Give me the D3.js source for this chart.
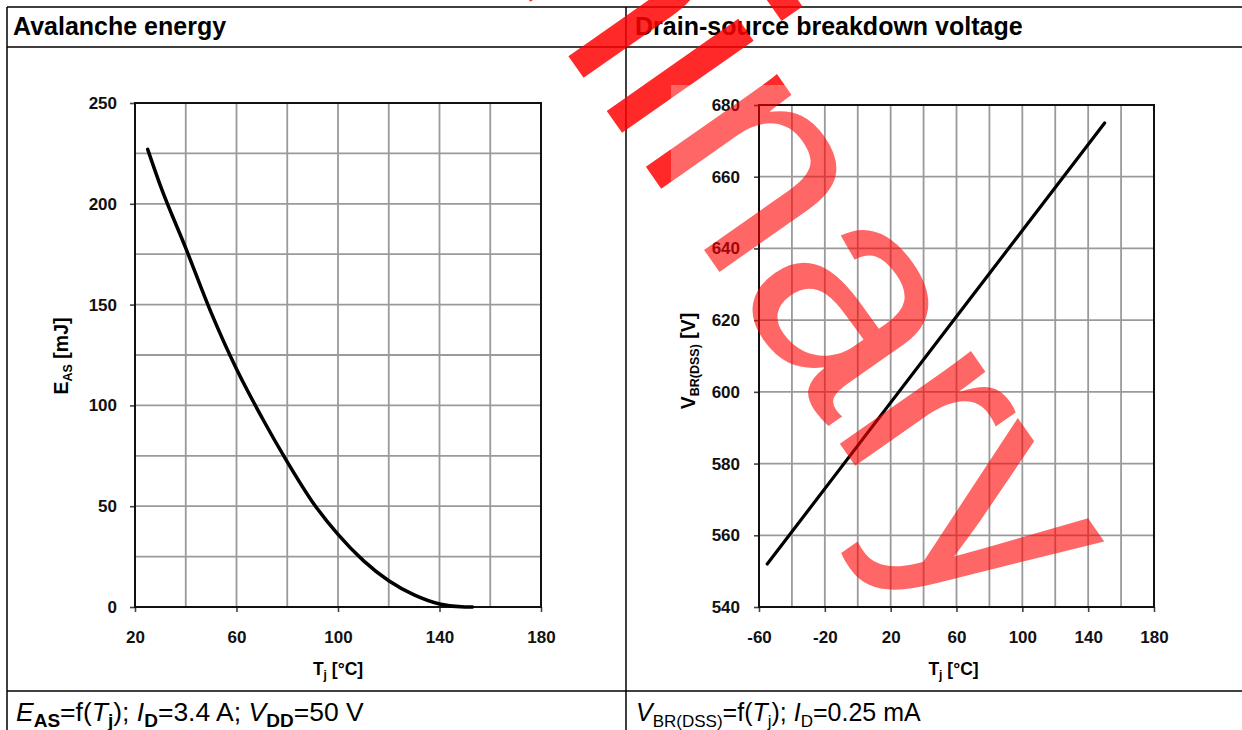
<!DOCTYPE html>
<html><head><meta charset="utf-8">
<script src="https://cdn.jsdelivr.net/npm/d3@7"></script>
<style>
body{margin:0;background:#fff}
svg{display:block}
text{font-family:"Liberation Sans",Arial,Helvetica,sans-serif}
</style>
</head><body>
<svg id="c" width="1242" height="730"></svg>
<script>
// ---------- data ----------
const easTemp = [25, 30, 40, 50, 60, 70, 80, 90, 100, 110, 120, 130, 140, 150, 153];
const easVal  = [227, 209, 178, 146, 118, 94, 72, 52, 36, 23, 13, 6, 1.5, 0, 0];
const easXTicks = [20, 60, 100, 140, 180];
const easYTicks = [0, 50, 100, 150, 200, 250];
const easXGrid = [20, 40, 60, 80, 100, 120, 140, 160, 180];
const easYGrid = [0, 25, 50, 75, 100, 125, 150, 175, 200, 225, 250];

const vbrTemp = [-55, 0, 60, 100, 150];
const vbrVal  = [552, 585, 621, 645, 675];
const vbrXTicks = [-60, -20, 20, 60, 100, 140, 180];
const vbrYTicks = [540, 560, 580, 600, 620, 640, 660, 680];
const vbrXGrid = [-60, -40, -20, 0, 20, 40, 60, 80, 100, 120, 140, 160, 180];
const vbrYGrid = [540, 560, 580, 600, 620, 640, 660, 680];

const titles = ["Avalanche energy", "Drain-source breakdown voltage"];
const watermarkText = "Preliminary";

// ---------- drawing ----------
const svg = d3.select("#c");
const W = 1242, H = 730;

function drawChart(cfg) {
  const x = d3.scaleLinear().domain(cfg.xDomain).range(cfg.xRange);
  const y = d3.scaleLinear().domain(cfg.yDomain).range(cfg.yRange);
  const g = svg.append("g");
  // grid
  g.append("g").selectAll("line").data(cfg.xGrid).join("line")
    .attr("x1", d => x(d)).attr("x2", d => x(d))
    .attr("y1", cfg.yRange[0]).attr("y2", cfg.yRange[1])
    .attr("stroke", "#9a9a9a").attr("stroke-width", 1.8);
  g.append("g").selectAll("line").data(cfg.yGrid).join("line")
    .attr("y1", d => y(d)).attr("y2", d => y(d))
    .attr("x1", cfg.xRange[0]).attr("x2", cfg.xRange[1])
    .attr("stroke", "#9a9a9a").attr("stroke-width", 1.8);
  // axes
  const fmt = d => String(d);
  const ax = g.append("g").attr("transform", `translate(0,${cfg.yRange[0]})`)
    .call(d3.axisBottom(x).tickValues(cfg.xTicks).tickSize(5).tickPadding(19).tickFormat(fmt));
  const ay = g.append("g").attr("transform", `translate(${cfg.xRange[0]},0)`)
    .call(d3.axisLeft(y).tickValues(cfg.yTicks).tickSize(5).tickPadding(cfg.yPad).tickFormat(fmt));
  [ax, ay].forEach(a => {
    a.select(".domain").remove();
    a.selectAll(".tick line").attr("stroke", "#444").attr("stroke-width", 1.6);
    a.selectAll(".tick text").attr("font-size", 17).attr("font-weight", "bold").attr("fill", "#111")
      .style("font-family", '"Liberation Sans",Arial,sans-serif');
  });
  // frame
  g.append("rect")
    .attr("x", cfg.xRange[0]).attr("y", cfg.yRange[1])
    .attr("width", cfg.xRange[1] - cfg.xRange[0]).attr("height", cfg.yRange[0] - cfg.yRange[1])
    .attr("fill", "none").attr("stroke", "#111").attr("stroke-width", 2);
  // curve
  const pts = cfg.xs.map((t, i) => [t, cfg.ys[i]]);
  g.append("path").datum(pts)
    .attr("d", d3.line().x(d => x(d[0])).y(d => y(d[1])).curve(cfg.curve))
    .attr("fill", "none").attr("stroke", "#000").attr("stroke-width", cfg.lw)
    .attr("stroke-linecap", "round");
  // x title
  const xt = g.append("text").attr("x", (cfg.xRange[0] + cfg.xRange[1]) / 2 + cfg.xtDx).attr("y", 675)
    .attr("text-anchor", "middle").attr("font-size", 17.5).attr("font-weight", "bold");
  xt.append("tspan").text("T");
  xt.append("tspan").attr("font-size", 12).attr("dy", 4).text("j");
  xt.append("tspan").attr("dy", -4).text(" [°C]");
  // y title
  const yt = g.append("text")
    .attr("transform", `translate(${cfg.ytX},${cfg.ytY}) rotate(-90)`)
    .attr("text-anchor", "middle").attr("font-size", 19.5).attr("font-weight", "bold");
  yt.append("tspan").text(cfg.yMain);
  yt.append("tspan").attr("font-size", 12.5).attr("dy", 4).text(cfg.ySub);
  yt.append("tspan").attr("dy", -4).text(cfg.yRest);
}

drawChart({
  xDomain: [20, 180], xRange: [135, 541],
  yDomain: [0, 250], yRange: [607, 103],
  xTicks: easXTicks, yTicks: easYTicks, xGrid: easXGrid, yGrid: easYGrid,
  xs: easTemp, ys: easVal, curve: d3.curveMonotoneX, lw: 3.5,
  yPad: 13, xtDx: 0, ytX: 68, ytY: 356,
  yMain: "E", ySub: "AS", yRest: " [mJ]"
});
drawChart({
  xDomain: [-60, 180], xRange: [759, 1154],
  yDomain: [540, 680], yRange: [607, 105],
  xTicks: vbrXTicks, yTicks: vbrYTicks, xGrid: vbrXGrid, yGrid: vbrYGrid,
  xs: vbrTemp, ys: vbrVal, curve: d3.curveLinear, lw: 3.2,
  yPad: 14, xtDx: -3, ytX: 695, ytY: 361,
  yMain: "V", ySub: "BR(DSS)", yRest: " [V]"
});

// ---------- table ----------
const tbl = svg.append("g").attr("stroke", "#000").attr("stroke-width", 1.5);
[[7, 7, W, 7], [7, 47, W, 47], [7, 691, W, 691], [7, 7, 7, H], [626, 7, 626, H]].forEach(l =>
  tbl.append("line").attr("x1", l[0]).attr("y1", l[1]).attr("x2", l[2]).attr("y2", l[3]));

svg.append("text").attr("x", 13).attr("y", 35).attr("font-size", 25).attr("font-weight", "bold").text(titles[0]);
svg.append("text").attr("x", 635).attr("y", 35).attr("font-size", 25).attr("font-weight", "bold").text(titles[1]);

function caption(x, fs, sfs, parts) {
  const t = svg.append("text").attr("x", x).attr("y", 721).attr("font-size", fs);
  let shift = 0;
  parts.forEach(p => {
    const ts = t.append("tspan").text(p.t);
    if (p.i) ts.attr("font-style", "italic");
    if (p.sub) {
      ts.attr("font-size", sfs).attr("dy", 6 - shift);
      if (p.b) ts.attr("font-weight", "bold");
      shift = 6;
    } else {
      ts.attr("dy", -shift);
      shift = 0;
    }
  });
}
caption(16, 26.5, 19, [
  {t: "E", i: 1}, {t: "AS", sub: 1, b: 1}, {t: "=f("}, {t: "T", i: 1}, {t: "j", sub: 1, b: 1},
  {t: "); "}, {t: "I", i: 1}, {t: "D", sub: 1, b: 1}, {t: "=3.4 A; "}, {t: "V", i: 1},
  {t: "DD", sub: 1, b: 1}, {t: "=50 V"}
]);
caption(636, 25, 17, [
  {t: "V", i: 1}, {t: "BR(DSS)", sub: 1}, {t: "=f("}, {t: "T", i: 1}, {t: "j", sub: 1},
  {t: "); "}, {t: "I", i: 1}, {t: "D", sub: 1}, {t: "=0.25 mA"}
]);

// ---------- watermark ----------
const defs = svg.append("defs");
defs.append("clipPath").attr("id", "outside").append("path")
  .attr("clip-rule", "evenodd")
  .attr("d", `M0,0H${W}V${H}H0Z M671,85V685H1190V85Z`);
defs.append("clipPath").attr("id", "inside").append("rect")
  .attr("x", 671).attr("y", 85).attr("width", 519).attr("height", 600);
[["outside", 0.84], ["inside", 0.6]].forEach(([id, op]) => {
  svg.append("g").attr("clip-path", `url(#${id})`)
    .append("text")
    .attr("transform", "translate(973,634) rotate(55)")
    .attr("text-anchor", "end")
    .attr("font-size", 304)
    .attr("fill", "#ff0000").attr("fill-opacity", op)
    .text(watermarkText);
});
</script>
</body></html>
